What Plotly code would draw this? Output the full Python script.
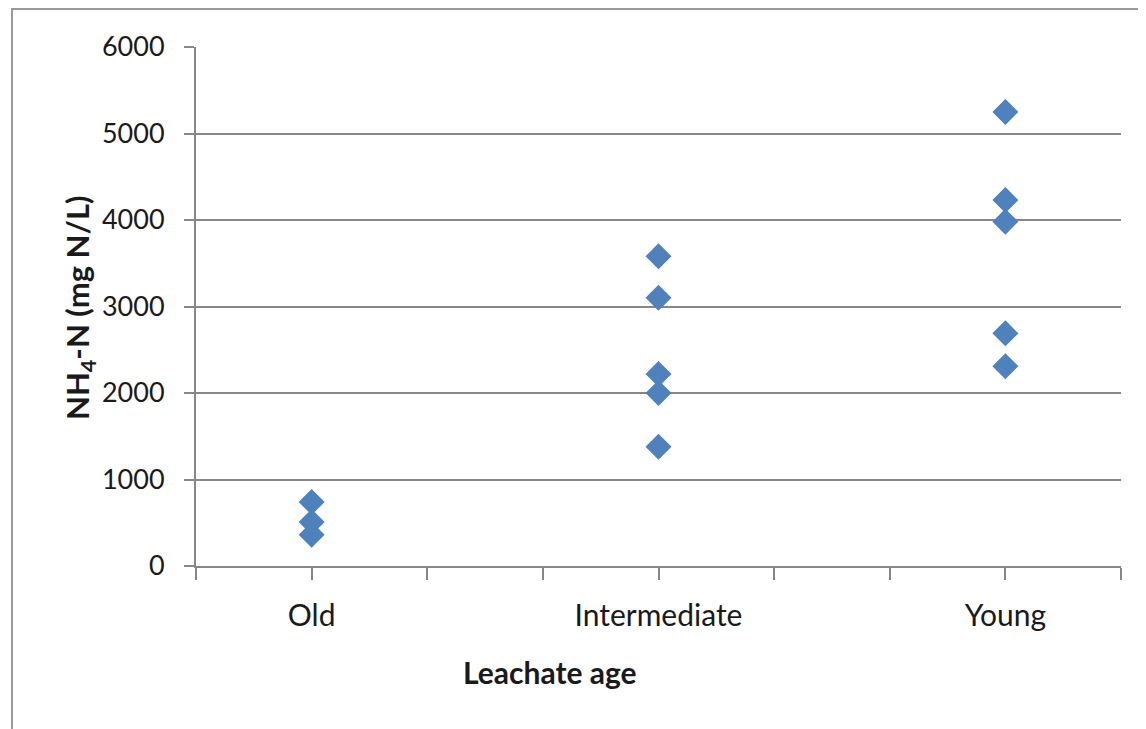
import plotly.graph_objects as go

# Data
categories = ["Old", "Intermediate", "Young"]
category_positions = [1, 4, 7]
old_values = [740, 510, 360]
intermediate_values = [3580, 3100, 2220, 2000, 1380]
young_values = [5250, 4230, 3980, 2690, 2310]
y_ticks = [0, 1000, 2000, 3000, 4000, 5000, 6000]

series = [old_values, intermediate_values, young_values]
xs, ys = [], []
for pos, vals in zip(category_positions, series):
    xs.extend([pos] * len(vals))
    ys.extend(vals)

# page is rendered with an 8px body margin
OFF = 8
W, H = 1146 - OFF, 729 - OFF
# desired plot area in page pixels: left 196, right 1121, top 47, bottom 566
L = 196 - OFF
T = 47 - OFF
R = W - (1121 - OFF)
B = H - (566 - OFF)
pw, ph = W - L - R, H - T - B

def px_x(page_px):
    return (page_px - OFF - L) / pw

def px_y(page_py):
    return (H - B - (page_py - OFF)) / ph

fig = go.Figure()
fig.add_trace(go.Scatter(
    x=xs, y=ys, mode="markers",
    marker=dict(symbol="diamond", size=20, color="#4F81BD",
                line=dict(width=0)),
    showlegend=False,
))

grid_col = "#868686"
txt_col = "#1a1a1a"
fig.update_layout(
    width=W, height=H,
    margin=dict(l=L, r=R, t=T, b=B),
    paper_bgcolor="white", plot_bgcolor="white",
    font=dict(family="Lato, Open Sans, sans-serif", color=txt_col),
    xaxis=dict(
        range=[0, 8], tickmode="array", tickvals=category_positions, ticktext=categories,
        showgrid=False, zeroline=False, showline=True, linecolor=grid_col, linewidth=2,
        ticks="outside", ticklen=12, tickwidth=1.5, tickcolor=grid_col,
        minor=dict(ticks="outside", tick0=0, dtick=1, ticklen=12, tickwidth=1.5,
                   tickcolor=grid_col, showgrid=False),
        tickfont=dict(size=30, family="Lato, sans-serif", color=txt_col),
        ticklabelstandoff=10,
    ),
    yaxis=dict(
        range=[0, 6000], tickmode="array", tickvals=y_ticks,
        showgrid=True, gridcolor=grid_col, gridwidth=1.5,
        zeroline=False, showline=True, linecolor=grid_col, linewidth=2,
        ticks="outside", ticklen=10, tickwidth=1.5, tickcolor=grid_col,
        tickfont=dict(size=27, family="Lato, sans-serif", color=txt_col),
        ticklabelstandoff=14,
    ),
    annotations=[
        dict(text="<b>NH<sub>4</sub>-N (mg N/L)</b>", textangle=-90,
             xref="paper", yref="paper", x=px_x(79), y=px_y(307),
             xanchor="center", yanchor="middle", showarrow=False,
             font=dict(size=31, family="Lato, sans-serif", color=txt_col)),
        dict(text="<b>Leachate age</b>",
             xref="paper", yref="paper", x=px_x(550), y=px_y(672),
             xanchor="center", yanchor="middle", showarrow=False,
             font=dict(size=30, family="Lato, sans-serif", color=txt_col)),
    ],
    shapes=[
        dict(type="rect", xref="paper", yref="paper",
             x0=px_x(12), x1=px_x(1170),
             y0=px_y(760), y1=px_y(9),
             line=dict(color="#9a9a9a", width=2), fillcolor="rgba(0,0,0,0)",
             layer="below"),
    ],
)

fig.write_html("out.html")
